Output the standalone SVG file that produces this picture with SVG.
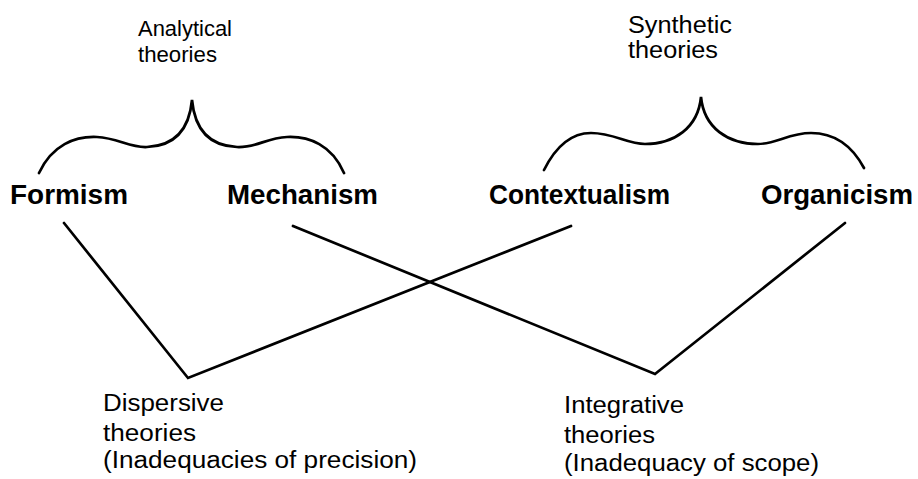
<svg xmlns="http://www.w3.org/2000/svg" width="918" height="479" viewBox="0 0 918 479">
<style>
.reg{font-family:"Liberation Sans",Arial,sans-serif;font-size:23px;fill:#000}
.sm{font-size:21.5px}
.bold{font-family:"Liberation Sans",Arial,sans-serif;font-size:27.5px;font-weight:bold;fill:#000}
.ln{fill:none;stroke:#000;stroke-width:2.7;stroke-linecap:round;stroke-linejoin:miter}
</style>
<rect width="918" height="479" fill="#fff"/>
<g id="analytical">
<text class="reg sm" x="138" y="36" textLength="94" lengthAdjust="spacingAndGlyphs">Analytical</text>
<text class="reg sm" x="138" y="62" textLength="79" lengthAdjust="spacingAndGlyphs">theories</text>
<path class="ln" d="M39,173 C52,145 75,136 97,137 C118,138 130,148 147,147 C172,146 189,132 192,100 C195,132 212,146 237,147 C256,148 266,138 287,137 C309,136 332,145 344,173"/>
</g>
<g id="synthetic">
<text class="reg" x="628" y="33" textLength="104" lengthAdjust="spacingAndGlyphs">Synthetic</text>
<text class="reg" x="628" y="58" textLength="90" lengthAdjust="spacingAndGlyphs">theories</text>
<path class="ln" d="M544,170 C558,142 574,133 591,133 C614,133 627,144 645,144 C674,144 698,128 701,97 C704,128 728,144 758,144 C776,144 789,133 811,133 C830,133 850,142 864,168"/>
</g>
<g id="formism"><text class="bold" x="10" y="204" textLength="118" lengthAdjust="spacingAndGlyphs">Formism</text></g>
<g id="mechanism"><text class="bold" x="227" y="204" textLength="151" lengthAdjust="spacingAndGlyphs">Mechanism</text></g>
<g id="contextualism"><text class="bold" x="489" y="204" textLength="181" lengthAdjust="spacingAndGlyphs">Contextualism</text></g>
<g id="organicism"><text class="bold" x="761" y="204" textLength="152" lengthAdjust="spacingAndGlyphs">Organicism</text></g>
<g id="dispersive">
<text class="reg" x="103" y="411" textLength="121" lengthAdjust="spacingAndGlyphs">Dispersive</text>
<text class="reg" x="103" y="441" textLength="93" lengthAdjust="spacingAndGlyphs">theories</text>
<text class="reg" x="103" y="468" textLength="314" lengthAdjust="spacingAndGlyphs">(Inadequacies of precision)</text>
</g>
<g id="integrative">
<text class="reg" x="564" y="413" textLength="120" lengthAdjust="spacingAndGlyphs">Integrative</text>
<text class="reg" x="564" y="443" textLength="91" lengthAdjust="spacingAndGlyphs">theories</text>
<text class="reg" x="564" y="471" textLength="255" lengthAdjust="spacingAndGlyphs">(Inadequacy of scope)</text>
</g>
<g id="connectors">
<polyline class="ln" points="64,223 188,378 571,226"/>
<polyline class="ln" points="293,226 655,374 845,223"/>
</g>
</svg>
